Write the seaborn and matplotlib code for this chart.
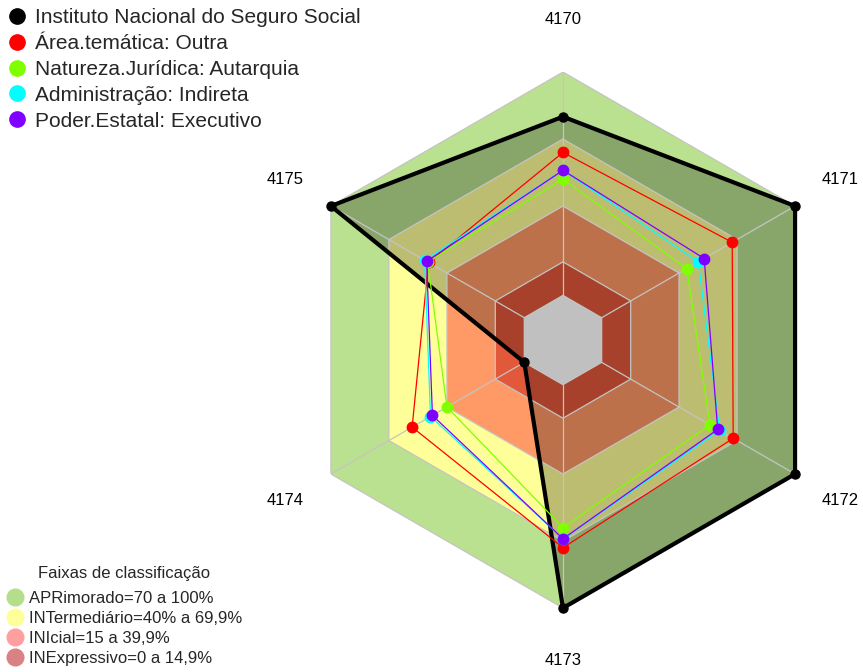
import numpy as np
import pandas as pd
import matplotlib
matplotlib.use("Agg")
import matplotlib.pyplot as plt
from matplotlib.lines import Line2D
import seaborn as sns

# ---------------- data ----------------
categories = ["4170", "4171", "4172", "4173", "4174", "4175"]
instituto = [80, 100, 100, 100, 0, 100]
area_tematica = [64, 67.5, 68, 73, 58, 49.5]
natureza_juridica = [52, 44, 56, 64, 40, 50]
administracao = [56, 50, 61, 69, 48.5, 51.5]
poder_estatal = [56, 53, 60, 69, 47.5, 50.5]

series_names = [
    "Instituto Nacional do Seguro Social",
    "Área.temática: Outra",
    "Natureza.Jurídica: Autarquia",
    "Administração: Indireta",
    "Poder.Estatal: Executivo",
]
series_values = [instituto, area_tematica, natureza_juridica, administracao, poder_estatal]
series_colors = ["#000000", "#ff0000", "#7fff00", "#00ffff", "#7f00ff"]

band_labels = ["APRimorado=70 a 100%", "INTermediário=40% a 69,9%",
               "INIcial=15 a 39,9%", "INExpressivo=0 a 14,9%"]
band_limits = [100, 70, 40, 15]
band_colors = ["#bae18f", "#ffff99", "#ff9966", "#e2583a"]
band_legend_colors = ["#b5de8c", "#ffff99", "#ff9f9f", "#d98282"]
r_min = -20
label_r = 123.5

# ---------------- figure ----------------
sns.set_theme(style="white")
plt.rcParams["font.family"] = ["Liberation Sans", "DejaVu Sans"]

fig = plt.figure(figsize=(8.63, 6.72), dpi=100)
ax = fig.add_axes([0.3418, 0.0952, 0.6211, 0.7976], projection="polar")
ax.set_theta_offset(np.pi / 2)
ax.set_theta_direction(-1)
ax.set_ylim(r_min, 100)
ax.grid(False)
ax.spines["polar"].set_visible(False)
ax.set_yticks([])
ax.patch.set_alpha(0)

n = len(categories)
angles = np.arange(n) * 2 * np.pi / n
closed = np.append(angles, angles[0])

# bands
for lim, col in zip(band_limits, band_colors):
    ax.fill(closed, [lim] * (n + 1), color=col, lw=0, zorder=1)

# shading under the institution polygon
inst_closed = instituto + instituto[:1]
ax.fill(closed, inst_closed, color="black", alpha=0.26, lw=0, zorder=2)

# center hole
ax.fill(closed, [0] * (n + 1), color="#c0c0c0", lw=0, zorder=3)

# hexagonal grid
for lim in [0, 15, 40, 70, 100]:
    ax.plot(closed, [lim] * (n + 1), color="#c4c4c4", lw=0.9, zorder=4)
for a in angles:
    ax.plot([a, a], [0, 100], color="#c4c4c4", lw=0.9, zorder=4)

# series
rows = []
for name, vals in zip(series_names, series_values):
    for a, v in zip(closed, vals + vals[:1]):
        rows.append({"serie": name, "theta": a, "valor": v})
df = pd.DataFrame(rows)

for i, (name, col) in enumerate(zip(series_names, series_colors)):
    sub = df[df["serie"] == name]
    lw = 3.0 if i == 0 else 0.9
    ms = 6.5 if i == 0 else 7.5
    sns.lineplot(data=sub, x="theta", y="valor", sort=False, estimator=None,
                 color=col, lw=lw, ax=ax, zorder=5 + i, legend=False)
    ax.plot(sub["theta"][:-1], sub["valor"][:-1], "o", color=col, ms=ms,
            zorder=5 + i, clip_on=False)

ax.set_xlabel("")
ax.set_ylabel("")
ax.set_xticks(angles)
ax.set_xticklabels([])
ax.tick_params(axis="x", length=0)
for a, lab in zip(angles, categories):
    ax.text(a, label_r, lab, ha="center", va="center", fontsize=12,
            color="black", clip_on=False)
ax.set_ylim(r_min, 100)

# legends
h1 = [Line2D([], [], marker="o", ls="none", color=c, ms=11) for c in series_colors]
leg1 = fig.legend(h1, series_names, loc="upper left", bbox_to_anchor=(0.003, 0.991),
                  frameon=False, fontsize=15, handletextpad=0.25, labelspacing=0.33,
                  borderaxespad=0.0, borderpad=0.1, handlelength=1.2)

h2 = [Line2D([], [], marker="o", ls="none", markerfacecolor=c, markeredgecolor=c,
             ms=12) for c in band_legend_colors]
leg2 = fig.legend(h2, band_labels, loc="lower left", bbox_to_anchor=(0.004, 0.006),
                  frameon=False, fontsize=12, title="Faixas de classificação",
                  title_fontsize=12, handletextpad=0.25, labelspacing=0.3,
                  borderaxespad=0.0, borderpad=0.1, handlelength=1.2)
leg2._legend_box.sep = 0.3 * 12 + 4

fig.savefig("out.png", dpi=100)
